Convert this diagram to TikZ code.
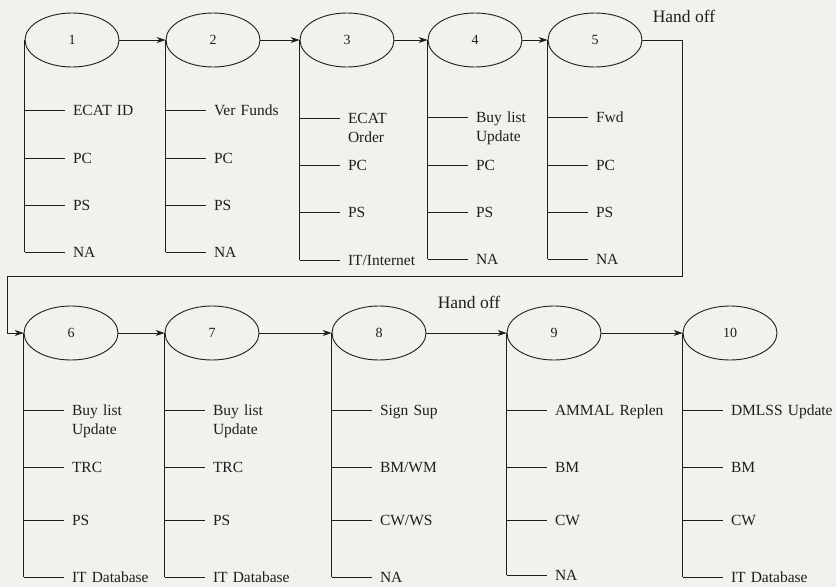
\documentclass[tikz,border=0pt]{standalone}
\usepackage{fontspec}
\setmainfont{Liberation Serif}
\usetikzlibrary{arrows.meta,positioning,shapes.geometric,calc}
\definecolor{paper}{RGB}{241,242,238}
\definecolor{ink}{RGB}{30,30,30}

\begin{document}
\begin{tikzpicture}[x=1pt,y=-1pt,>={Stealth[length=9pt,width=6pt]},
                    line width=0.9pt,color=ink,node distance=141pt]
	  \tikzstyle{stage}=[ellipse,draw,inner sep=0pt,minimum width=94pt,
	                     minimum height=54pt,font=\fontsize{14}{16}\selectfont]
	  \tikzstyle{item}=[anchor=base west,align=left,text width=130pt,inner sep=0pt,
	                    font=\fontsize{15.5}{19}\selectfont]
	  \tikzstyle{note}=[font=\fontsize{17.5}{20}\selectfont]

	  \fill[paper] (0,0) rectangle (836,587);
	  \useasboundingbox (0,0) rectangle (836,587);

	  \node[stage] (s1) at (72,40) {1};
	  \node[stage] (s2) [right of=s1]                    {2};
	  \node[stage] (s3) [right of=s2, node distance=134pt] {3};
	  \node[stage] (s4) [right of=s3, node distance=128pt] {4};
	  \node[stage] (s5) [right of=s4, node distance=120pt] {5};

	  \node[stage] (s6) at (71,333) {6};
	  \node[stage] (s7) [right of=s6]                    {7};
	  \node[stage] (s8) [right of=s7, node distance=167pt] {8};
	  \node[stage] (s9) [right of=s8, node distance=175pt] {9};
	  \node[stage] (s10) [right of=s9, node distance=176pt] {10};

	  \node[note] (h1) at (684,16)  {Hand off};
	  \node[note] (h2) at (469,302) {Hand off};

	  \path[->] (s1) edge (s2)
	  (s2) edge (s3)
	  (s3) edge (s4)
	  (s4) edge (s5)
	  (s6) edge (s7)
	  (s7) edge (s8)
	  (s8) edge (s9)
	  (s9) edge (s10);

	  % hand off from 5 back round to 6
	  \coordinate (r1) at (682,276);
	  \coordinate (r2) at (7,333);
	  \draw[->] (s5.east) -| (r1) -| (r2) -- (s6.west);

	  % branches under each stage
	  \foreach \yy/\txt [count=\i] in {110/ECAT ID, 158/PC, 205/PS, 252/NA}{
	    \node[item] (a\i) at ($(s1.west |- 0,\yy)+(48,5)$) {\txt};
	    \draw ([xshift=-48pt,yshift=5pt]a\i.base west) -- ([xshift=-8pt,yshift=5pt]a\i.base west);
	  }
	  \draw (s1.west) -- ([xshift=-48pt,yshift=5pt]a4.base west);

	  \foreach \yy/\txt [count=\i] in {110/Ver Funds, 158/PC, 205/PS, 252/NA}{
	    \node[item] (b\i) at ($(s2.west |- 0,\yy)+(48,5)$) {\txt};
	    \draw ([xshift=-48pt,yshift=5pt]b\i.base west) -- ([xshift=-8pt,yshift=5pt]b\i.base west);
	  }
	  \draw (s2.west) -- ([xshift=-48pt,yshift=5pt]b4.base west);

	  \foreach \yy/\txt [count=\i] in {118/ECAT\\Order, 165/PC, 212/PS, 260/{IT/Internet}}{
	    \node[item] (c\i) at ($(s3.west |- 0,\yy)+(48,5)$) {\txt};
	    \draw ([xshift=-48pt,yshift=5pt]c\i.base west) -- ([xshift=-8pt,yshift=5pt]c\i.base west);
	  }
	  \draw (s3.west) -- ([xshift=-48pt,yshift=5pt]c4.base west);

	  \foreach \yy/\txt [count=\i] in {117/Buy list\\Update, 165/PC, 212/PS, 259/NA}{
	    \node[item] (d\i) at ($(s4.west |- 0,\yy)+(48,5)$) {\txt};
	    \draw ([xshift=-48pt,yshift=5pt]d\i.base west) -- ([xshift=-8pt,yshift=5pt]d\i.base west);
	  }
	  \draw (s4.west) -- ([xshift=-48pt,yshift=5pt]d4.base west);

	  \foreach \yy/\txt [count=\i] in {117/Fwd, 165/PC, 212/PS, 259/NA}{
	    \node[item] (e\i) at ($(s5.west |- 0,\yy)+(48,5)$) {\txt};
	    \draw ([xshift=-48pt,yshift=5pt]e\i.base west) -- ([xshift=-8pt,yshift=5pt]e\i.base west);
	  }
	  \draw (s5.west) -- ([xshift=-48pt,yshift=5pt]e4.base west);

	  \foreach \yy/\txt [count=\i] in {410/Buy list\\Update, 467/TRC, 520/PS, 577/IT Database}{
	    \node[item] (f\i) at ($(s6.west |- 0,\yy)+(48,5)$) {\txt};
	    \draw ([xshift=-48pt,yshift=5pt]f\i.base west) -- ([xshift=-8pt,yshift=5pt]f\i.base west);
	  }
	  \draw (s6.west) -- ([xshift=-48pt,yshift=5pt]f4.base west);

	  \foreach \yy/\txt [count=\i] in {410/Buy list\\Update, 467/TRC, 520/PS, 577/IT Database}{
	    \node[item] (g\i) at ($(s7.west |- 0,\yy)+(48,5)$) {\txt};
	    \draw ([xshift=-48pt,yshift=5pt]g\i.base west) -- ([xshift=-8pt,yshift=5pt]g\i.base west);
	  }
	  \draw (s7.west) -- ([xshift=-48pt,yshift=5pt]g4.base west);

	  \foreach \yy/\txt [count=\i] in {410/Sign Sup, 467/{BM/WM}, 520/{CW/WS}, 577/NA}{
	    \node[item] (k\i) at ($(s8.west |- 0,\yy)+(48,5)$) {\txt};
	    \draw ([xshift=-48pt,yshift=5pt]k\i.base west) -- ([xshift=-8pt,yshift=5pt]k\i.base west);
	  }
	  \draw (s8.west) -- ([xshift=-48pt,yshift=5pt]k4.base west);

	  \foreach \yy/\txt [count=\i] in {410/AMMAL Replen, 467/BM, 520/CW, 575/NA}{
	    \node[item] (m\i) at ($(s9.west |- 0,\yy)+(48,5)$) {\txt};
	    \draw ([xshift=-48pt,yshift=5pt]m\i.base west) -- ([xshift=-8pt,yshift=5pt]m\i.base west);
	  }
	  \draw (s9.west) -- ([xshift=-48pt,yshift=5pt]m4.base west);

	  \foreach \yy/\txt [count=\i] in {410/DMLSS Update, 467/BM, 520/CW, 577/IT Database}{
	    \node[item] (n\i) at ($(s10.west |- 0,\yy)+(48,5)$) {\txt};
	    \draw ([xshift=-48pt,yshift=5pt]n\i.base west) -- ([xshift=-8pt,yshift=5pt]n\i.base west);
	  }
	  \draw (s10.west) -- ([xshift=-48pt,yshift=5pt]n4.base west);
	\end{tikzpicture}
\end{document}
